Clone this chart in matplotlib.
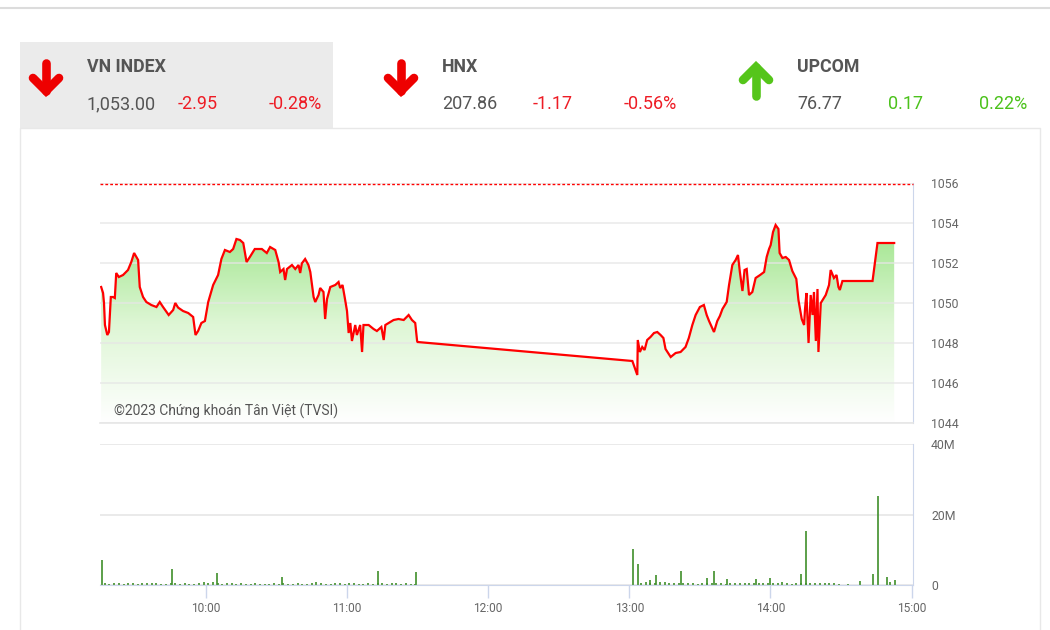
import numpy as np
import matplotlib
matplotlib.use("Agg")
from matplotlib import pyplot as plt
from matplotlib.colors import LinearSegmentedColormap
from matplotlib.patches import Rectangle

plt.rcParams['font.family'] = ['Roboto', 'DejaVu Sans']

# header quotes
idx_names = ["VN INDEX", "HNX", "UPCOM"]
idx_close = ["1,053.00", "207.86", "76.77"]
idx_change = ["-2.95", "-1.17", "0.17"]
idx_pct = ["-0.28%", "-0.56%", "0.22%"]

ref_price = 1055.95

# intraday VN-Index, minutes after 09:00
price_min = [15.5, 16.3, 16.7, 17.1, 18.1, 18.8, 19.6, 20.5, 21.3, 21.9,
             23.0, 24.8, 26.9, 28.3, 29.5, 30.5, 31.2, 31.9, 33.3, 34.7,
             36.8, 39.0, 40.4, 41.8, 44.2, 46.1, 47.0, 48.2, 50.3, 52.5,
             54.6, 55.6, 56.7, 58.1, 59.6, 61.0, 63.1, 65.2, 66.6, 68.1,
             70.2, 71.6, 73.0, 74.5, 75.9, 77.3, 78.7, 80.8, 83.8, 85.9,
             87.3, 89.5, 90.9, 91.6, 93.0, 93.7, 94.5, 96.6, 98.0, 99.4,
             100.1, 100.8, 102.2, 103.6, 104.4, 105.8, 106.5, 107.9, 108.6, 110.0,
             110.7, 111.5, 112.9, 115.0, 116.4, 117.1, 118.1, 119.0, 120.0, 120.7,
             121.4, 122.1, 123.5, 124.2, 125.6, 126.4, 127.0, 129.2, 131.3, 132.7,
             134.6, 135.6, 136.3, 137.7, 139.8, 141.9, 144.1, 146.2, 147.6, 149.0,
             149.8, 150.0,
             241.3, 243.4, 243.6, 244.5, 245.5, 246.5, 247.6, 249.0, 250.5, 251.9,
             253.3, 254.5, 255.4, 257.6, 259.7, 261.8, 263.9, 265.3, 266.8, 268.2,
             270.0, 271.7, 272.9, 273.9, 276.0, 277.4, 278.5, 279.6, 281.4, 282.4,
             283.8, 285.2, 286.2, 287.0, 288.1, 289.0, 289.9, 290.9, 292.3, 293.7,
             295.6, 297.3, 298.4, 299.4, 300.1, 301.1, 302.2, 303.4, 303.9, 305.1,
             306.5, 307.9, 309.3, 311.0, 311.9, 313.3, 314.3, 314.7, 315.3, 316.2,
             317.1, 317.9, 318.5, 319.3, 320.0, 320.4, 321.4, 323.5, 324.9, 325.6,
             327.0, 328.1, 328.9, 329.5, 330.6, 343.4, 345.5, 352.6]
price_val = [1050.8, 1050.5, 1050.0, 1048.9, 1048.4, 1048.55, 1050.3, 1050.3, 1050.25, 1051.5,
             1051.3, 1051.4, 1051.65, 1052.05, 1052.5, 1052.3, 1052.15, 1050.8, 1050.3, 1050.05,
             1049.9, 1049.8, 1050.05, 1049.8, 1049.4, 1049.65, 1050.0, 1049.77, 1049.6, 1049.5,
             1049.3, 1048.4, 1048.6, 1049.0, 1049.1, 1050.05, 1050.9, 1051.4, 1052.2, 1052.65,
             1052.55, 1052.7, 1053.2, 1053.15, 1053.0, 1052.05, 1052.3, 1052.7, 1052.7, 1052.5,
             1052.8, 1052.65, 1052.05, 1051.55, 1051.7, 1051.15, 1051.7, 1051.9, 1051.7, 1051.9,
             1051.5, 1051.98, 1052.2, 1051.9, 1051.55, 1050.3, 1050.05, 1050.4, 1050.75, 1050.55,
             1049.2, 1050.2, 1050.8, 1050.9, 1051.05, 1050.75, 1050.9, 1050.3, 1049.6, 1048.5,
             1049.0, 1048.1, 1048.9, 1048.4, 1048.9, 1047.55, 1048.9, 1048.9, 1048.7, 1048.6,
             1048.8, 1048.15, 1048.9, 1049.0, 1049.15, 1049.2, 1049.15, 1049.4, 1049.15, 1049.0,
             1048.1, 1048.05,
             1047.1, 1046.4, 1048.15, 1047.55, 1047.8, 1047.65, 1048.15, 1048.3, 1048.5, 1048.55,
             1048.4, 1048.25, 1047.7, 1047.3, 1047.5, 1047.55, 1047.8, 1048.25, 1048.9, 1049.4,
             1049.8, 1049.9, 1049.4, 1049.1, 1048.55, 1049.1, 1049.35, 1049.7, 1050.05, 1050.9,
             1051.9, 1052.15, 1052.4, 1051.55, 1050.6, 1051.65, 1051.7, 1050.4, 1050.55, 1051.25,
             1051.4, 1051.55, 1052.3, 1052.7, 1052.9, 1053.55, 1053.9, 1053.7, 1052.5, 1052.25,
             1052.3, 1052.15, 1051.6, 1051.2, 1050.15, 1049.2, 1048.9, 1049.7, 1050.5, 1048.0,
             1050.4, 1049.4, 1050.55, 1048.1, 1050.7, 1047.55, 1050.0, 1050.4, 1050.9, 1051.65,
             1051.25, 1051.4, 1050.8, 1050.65, 1051.1, 1051.1, 1053.0, 1053.0]

# volume (millions): small 2-minute prints plus the big ones
vol_am_start, vol_pm_start = 17, 245
vol_am = [0.5, 0.4, 0.6, 0.5, 0.3, 0.5, 0.6, 0.4, 0.5, 0.7,
          0.6, 0.5, 0.4, 0.3, 0.5, 0.6, 0.4, 0.5, 0.3, 0.4,
          0.6, 0.9, 0.7, 0.8, 0.5, 0.4, 0.5, 0.6, 0.4, 0.5,
          0.3, 0.4, 0.5, 0.3, 0.4, 0.3, 0.5, 0.4, 0.6, 0.4,
          0.3, 0.5, 0.4, 0.3, 0.6, 0.8, 0.5, 0.4, 0.3, 0.6,
          0.5, 0.4, 0.6, 0.5, 0.4, 0.3, 0.5, 0.4, 0.6, 0.5,
          0.4, 0.5, 0.6, 0.4, 0.5, 0.4, 0.3]
vol_pm = [0.6, 0.9, 0.7, 0.5, 0.8, 0.9, 0.7, 0.6, 0.5, 0.7,
          0.6, 0.5, 0.4, 0.6, 0.5, 0.7, 0.6, 0.5, 0.4, 0.6,
          0.5, 0.6, 0.7, 0.5, 0.6, 0.5, 0.7, 0.6, 0.5, 0.6,
          0.8, 0.5, 0.4, 0.6, 0.7, 0.6, 0.5, 0.6, 0.7, 0.5,
          0.6, 0.5, 0.4]
spike_min = [16, 45.5, 64.7, 92.3, 133, 149.5, 241.7, 243.8, 249, 251.2, 261.8, 273.2,
             276, 281.7, 294, 300, 313.2, 315, 333, 338, 343.4, 345.9, 349.5, 351, 353]
spike_vol = [7.1, 4.4, 3.3, 2.2, 4.1, 3.6, 10.1, 6.0, 1.5, 2.8, 4.1, 1.9,
             4.1, 1.6, 1.6, 1.9, 3.0, 15.4, 0.4, 1.0, 3.0, 25.2, 2.2, 0.8, 1.3]

hour_ticks = [10, 11, 12, 13, 14, 15]
hour_labels = ["10:00", "11:00", "12:00", "13:00", "14:00", "15:00"]

W, H = 1050, 630
fig = plt.figure(figsize=(W / 100, H / 100), dpi=100)

GRID = "#e6e6e6"
AXIS = "#ccd6eb"
LBL = "#666666"
RED = "#ee1c25"
GREEN = "#4cc21c"

def px_axes(l, t, r, b):
    return fig.add_axes([l / W, 1 - b / H, (r - l) / W, (b - t) / H])

# ---- overlay for the header / frame
deco = fig.add_axes([0, 0, 1, 1], zorder=-5)
deco.set_xlim(0, W)
deco.set_ylim(H, 0)
deco.axis("off")
deco.plot([0, W], [8, 8], color="#dcdcdc", lw=1.5)
deco.add_patch(Rectangle((20, 42), 313, 86, color="#ebebeb", lw=0))
deco.plot([20, 20, 1040, 1040], [H, 128, 128, H], color="#e8e8e8", lw=1)

heads = [46, 401, 756]
for i, hx in enumerate(heads):
    up = idx_change[i][0] != "-"
    col = "#55c51a" if up else "#ee0000"
    if up:
        shaft, tip, wing = (96, 67), 67, 80
    else:
        shaft, tip, wing = (63, 91), 91, 78
    deco.plot([hx, hx], shaft, color=col, lw=6.2, solid_capstyle="round")
    deco.plot([hx - 13, hx, hx + 13], [wing, tip, wing], color=col, lw=6.2,
              solid_capstyle="round", solid_joinstyle="miter")
    tx = hx + 41
    chg_col = GREEN if up else RED
    deco.text(tx, 67, idx_names[i], fontsize=12.8, fontweight="bold",
              color="#555555", va="center", ha="left")
    deco.text(tx, 104, idx_close[i], fontsize=13, color="#555555", va="center")
    deco.text(tx + 91, 104, idx_change[i], fontsize=13, color=chg_col, va="center")
    deco.text(tx + 182, 104, idx_pct[i], fontsize=13, color=chg_col, va="center")

# ---- price panel
t_price = 9 + np.array(price_min) / 60.0
v_price = np.array(price_val)

ax = px_axes(100, 183, 913, 423)
ax.set_xlim(9.25, 15.01)
ax.set_ylim(1044, 1056)
ax.set_yticks([1044, 1046, 1048, 1050, 1052, 1054, 1056])
ax.set_xticks([])
ax.yaxis.tick_right()
ax.tick_params(axis="y", length=0, pad=13, labelsize=8.8, labelcolor=LBL)
ax.grid(axis="y", color=GRID, lw=1.2, alpha=0.8, zorder=2)
ax.set_axisbelow(False)
for s in ["left", "top"]:
    ax.spines[s].set_visible(False)
ax.spines["bottom"].set_color(GRID)
ax.spines["bottom"].set_linewidth(1.2)
ax.spines["right"].set_color(AXIS)

cmap = LinearSegmentedColormap.from_list("g", ["#ffffff", "#def6d5", "#9fe58b"])
grad = np.linspace(0, 1, 256).reshape(-1, 1)
img = ax.imshow(grad, extent=[t_price[0], t_price[-1], 1044, v_price.max()],
                origin="lower", aspect="auto", cmap=cmap, zorder=1)
poly = ax.fill_between(t_price, v_price, 1044, color="none", lw=0)
img.set_clip_path(poly.get_paths()[0], transform=ax.transData)
ax.plot(t_price, v_price, color="#ff0000", lw=1.6, zorder=3, solid_joinstyle="miter")
ax.axhline(ref_price, color="#ff0000", lw=1, ls=(0, (2, 1.5)), zorder=3, clip_on=False)
ax.text(0.017, 0.048, "©2023 Chứng khoán Tân Việt (TVSI)", transform=ax.transAxes,
        fontsize=10, color="#555555", va="center", ha="left", zorder=4)

# ---- volume panel
vol_t = np.concatenate([vol_am_start + 2 * np.arange(len(vol_am)),
                        vol_pm_start + 2 * np.arange(len(vol_pm)),
                        spike_min])
vol_v = np.concatenate([vol_am, vol_pm, spike_vol])

axv = px_axes(100, 444, 913, 585)
axv.set_xlim(9.25, 15.01)
axv.set_ylim(0, 40)
axv.vlines(9 + vol_t / 60.0, 0, vol_v, color="#3f8f2a", lw=1.2)
axv.set_yticks([0, 20, 40])
axv.set_yticklabels(["0", "20M", "40M"])
axv.yaxis.tick_right()
axv.tick_params(axis="y", length=0, pad=13, labelsize=8.8, labelcolor=LBL)
axv.set_xticks(hour_ticks)
axv.set_xticklabels(hour_labels)
axv.tick_params(axis="x", length=9, width=1, color=AXIS, pad=3, labelsize=8.6,
                labelcolor=LBL)
axv.grid(axis="y", color=GRID, lw=1.2)
axv.set_axisbelow(True)
for s in ["left", "top"]:
    axv.spines[s].set_visible(False)
axv.spines["right"].set_color(AXIS)
axv.spines["bottom"].set_color(AXIS)

fig.savefig("out.png", dpi=100)
